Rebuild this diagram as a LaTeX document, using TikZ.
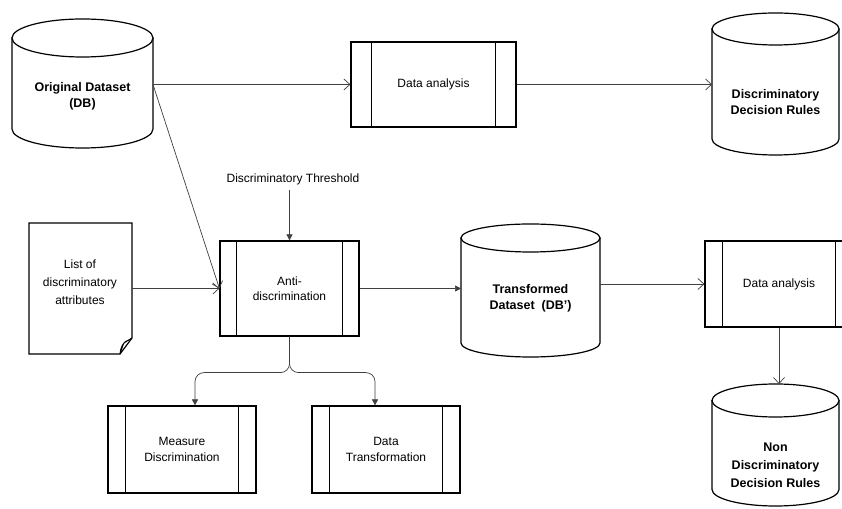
\documentclass[tikz,border=0pt]{standalone}
\usepackage{fontspec}
\setmainfont{Liberation Sans}
\usetikzlibrary{arrows.meta,calc}
\tikzset{
  shp/.style={draw=black,line width=1.2pt,fill=white},
  conn/.style={draw=black!75,line width=0.7pt},
  open/.style={conn,-{Straight Barb[length=6pt,width=11pt]}},
  fill tip/.style={conn,-{Triangle[length=6pt,width=6pt]}},
  procbox/.style={shp,inner sep=2pt,align=center,font=\fontsize{12}{15.5}\selectfont},
  boldtxt/.style={align=center,inner sep=0pt,font=\fontsize{12.5}{16}\selectfont\bfseries},
  plaintxt/.style={align=center,inner sep=0pt,font=\fontsize{12}{15.5}\selectfont},
}
% cylinder: name, x1, x2, top, bottom (pixel rows), ry
\newcommand\mycyl[6]{%
  \pgfmathsetmacro\cyx{(#2+#3)/2}%
  \pgfmathsetmacro\cyrx{(#3-#2)/2}%
  \pgfmathsetmacro\cyya{508-#4-#6}%
  \pgfmathsetmacro\cyyb{508-#5+#6}%
  \pgfmathsetmacro\cyc{508-(#4+#5)/2}%
  \pgfmathsetmacro\cyw{#3-#2}%
  \pgfmathsetmacro\cyh{#5-#4}%
  \draw[shp] (#2,\cyya) -- (#2,\cyyb) arc[start angle=180,end angle=360,x radius=\cyrx,y radius=#6] -- (#3,\cyya) -- cycle;
  \draw[shp] (\cyx,\cyya) ellipse[x radius=\cyrx,y radius=#6];
  \node[inner sep=0pt,outer sep=0pt,minimum width=\cyw pt,minimum height=\cyh pt] (#1) at (\cyx,\cyc) {};
}
% inner vertical bars of a process box
\newcommand\bars[2]{%
  \draw[line width=1.1pt] ([xshift=#2pt]#1.north west) -- ([xshift=#2pt]#1.south west);
  \draw[line width=1.1pt] ([xshift=-#2pt]#1.north east) -- ([xshift=-#2pt]#1.south east);
}
\begin{document}
\begin{tikzpicture}[x=1pt,y=1pt]
\useasboundingbox[fill=white] (0,0) rectangle (842,508);
\begin{scope}
\clip (0,0) rectangle (842,508);

% cylinders
\mycyl{orig}{12}{153}{19}{148}{19}
\mycyl{ddr}{712}{839}{13}{155}{16}
\mycyl{trans}{461}{600}{224}{357}{14}
\mycyl{non}{712}{839}{384}{506}{16.5}

\node[boldtxt] (origt) at (82.5,{508-96}) {Original Dataset\\(DB)};
\node[boldtxt] (ddrt) at (775.5,{508-102.5}) {Discriminatory\\Decision Rules};
\node[boldtxt] (transt) at (530.5,{508-298}) {Transformed\\Dataset\ \ (DB')};
\node[boldtxt,font=\fontsize{12.5}{18}\selectfont\bfseries] (nont) at (775.5,{508-465}) {Non\\Discriminatory\\Decision Rules};

% process boxes
\node[procbox,minimum width=165pt,minimum height=85pt] (da) at (433.5,{508-84.5}) {Data analysis};
\bars{da}{21}
\node[procbox,minimum width=139pt,minimum height=95pt] (anti) at (289.5,{508-288.5}) {Anti-\\discrimination};
\bars{anti}{17}
\node[procbox,minimum width=148pt,minimum height=86pt] (da2) at (779,{508-284}) {Data analysis};
\bars{da2}{18}
\node[procbox,minimum width=148pt,minimum height=87pt] (meas) at (182,{508-449.5}) {Measure\\Discrimination};
\bars{meas}{18}
\node[procbox,minimum width=148pt,minimum height=87pt] (dt) at (386,{508-449.5}) {Data\\Transformation};
\bars{dt}{18}

% document
\node[inner sep=0pt,minimum width=103pt,minimum height=131pt] (list) at (80.5,{508-288.5}) {};
\draw[shp] (29,{508-223}) -- (132,{508-223}) -- (132,{508-338}) -- (120,{508-354}) -- (29,{508-354}) -- cycle;
\draw[line width=1pt,fill=black!35] (120,{508-354}) .. controls (121,{508-346}) and (123,{508-343}) .. (127,{508-341}) .. controls (129,{508-340}) and (131,{508-339}) .. (132,{508-338}) .. controls (128,{508-341}) and (124,{508-341}) .. (123,{508-345}) .. controls (122,{508-348}) and (121,{508-351}) .. cycle;
\node[plaintxt,font=\fontsize{12}{18}\selectfont] (listt) at (80,{508-282}) {List of\\discriminatory\\attributes};

% threshold
\node[plaintxt] (thr) at (293,{508-179}) {Discriminatory Threshold};

% connectors
\draw[open] (da.west -| orig.east) -- (da.west);
\draw[open] (da.east) -- (da.east -| ddr.west);
\draw[open] (da.west -| orig.east) -- (anti.west);
\draw[open] (list.east) -- (anti.west);
\draw[fill tip] ([yshift=-5pt]anti.north |- thr.south) -- (anti.north);
\draw[fill tip] (anti.east) -- (anti.east -| trans.west);
\draw[open] (da2.west -| trans.east) -- (da2.west);
\draw[open] (da2.south) -- (da2.south |- non.north);
\draw[fill tip,rounded corners=9pt] (anti.south) -- ++(0,-36) -| ([xshift=13pt]meas.north);
\draw[fill tip,rounded corners=9pt] (anti.south) -- ++(0,-36) -| ([xshift=-11pt]dt.north);
\end{scope}
\end{tikzpicture}
\end{document}
